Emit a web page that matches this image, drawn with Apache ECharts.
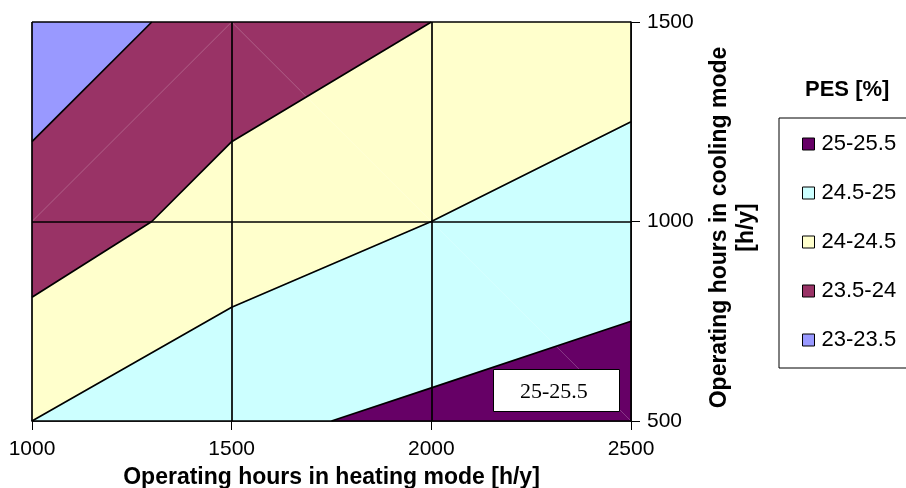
<!DOCTYPE html>
<html><head><meta charset="utf-8">
<script src="https://cdn.jsdelivr.net/npm/echarts@6/dist/echarts.min.js"></script>
<style>html,body{margin:0;padding:0;background:#fff}#c{width:906px;height:488px}</style>
</head><body><div id="c"></div>
<script>
// Axis ticks
const xTicks = [1000, 1500, 2000, 2500];
const yTicks = [500, 1000, 1500];
// Contour boundary lines (PES iso-lines), [heating h/y, cooling h/y]
const iso23_5 = [[1000, 1200], [1300, 1500]];
const iso24 = [[1000, 810], [1300, 1000], [1500, 1200], [2000, 1500]];
const iso24_5 = [[1000, 500], [1500, 785], [2000, 1000], [2500, 1250]];
const iso25 = [[1750, 500], [2000, 583], [2500, 750]];
// Faint triangulation diagonals
const diagonals = [
  [[1000, 1000], [1500, 1500]],
  [[1500, 1500], [2000, 1000]],
  [[2000, 1000], [2500, 500]]
];
// Band names and colours
const bandNames = ['25-25.5', '24.5-25', '24-24.5', '23.5-24', '23-23.5'];
const bandColors = ['#660066', '#CCFFFF', '#FFFFCC', '#993366', '#9999FF'];

const xMin = xTicks[0], xMax = xTicks[xTicks.length - 1];
const yMin = yTicks[0], yMax = yTicks[yTicks.length - 1];
const rev = a => a.slice().reverse();

const polys = {
  '23-23.5': [[xMin, yMax]].concat(rev(iso23_5)),
  '23.5-24': iso23_5.concat([iso24[iso24.length - 1]]).concat(rev(iso24).slice(1)),
  '24-24.5': iso24.concat([[xMax, yMax]]).concat(rev(iso24_5)),
  '24.5-25': iso24_5.concat([[xMax, iso25[iso25.length - 1][1]]]).concat(rev(iso25)),
  '25-25.5': iso25.concat([[xMax, yMin]])
};

const FONT = 'Liberation Sans, Arial';
const series = [];
bandNames.slice().reverse().forEach(name => {
  const color = bandColors[bandNames.indexOf(name)];
  const poly = polys[name];
  series.push({
    name: name, type: 'custom', coordinateSystem: 'cartesian2d', silent: true,
    itemStyle: { color: color, borderColor: '#000', borderWidth: 1 },
    data: poly,
    renderItem: function (params, api) {
      if (params.dataIndex !== 0) return null;
      return { type: 'polygon', shape: { points: poly.map(p => api.coord(p)) },
        style: { fill: color, stroke: null } };
    }
  });
});
diagonals.forEach(d => series.push({
  type: 'line', data: d, symbol: 'none', silent: true, z: 3,
  lineStyle: { color: 'rgba(255,255,255,0.22)', width: 1 }
}));
[iso23_5, iso24, iso24_5, iso25].forEach(l => series.push({
  type: 'line', data: l, symbol: 'none', silent: true, z: 4,
  lineStyle: { color: '#000', width: 1.7 }
}));
// gridlines and frame over fills
series.push({
  type: 'line', data: [], z: 5, silent: true,
  markLine: {
    silent: true, symbol: 'none', label: { show: false },
    lineStyle: { color: '#000', width: 1.7, type: 'solid' },
    data: xTicks.map(v => ({ xAxis: v })).concat(yTicks.map(v => ({ yAxis: v })))
  }
});

const chart = echarts.init(document.getElementById('c'));
chart.setOption({
  animation: false,
  backgroundColor: '#fff',
  grid: { left: 32, top: 22, width: 599, height: 399, containLabel: false, outerBoundsMode: 'none' },
  xAxis: {
    type: 'value', min: xMin, max: xMax, interval: 500,
    name: 'Operating hours in heating mode [h/y]', nameLocation: 'middle', nameGap: 45,
    nameTextStyle: { fontFamily: FONT, fontWeight: 'bold', fontSize: 23, color: '#000' },
    axisLine: { lineStyle: { color: '#000', width: 1.7 } },
    axisTick: { show: true, length: 9, lineStyle: { color: '#000' } },
    axisLabel: { fontFamily: FONT, fontSize: 21, color: '#000', margin: 18, formatter: v => String(v) },
    splitLine: { show: false }
  },
  yAxis: {
    type: 'value', position: 'right', min: yMin, max: yMax, interval: 500,
    name: 'Operating hours in cooling mode\n[h/y]', nameLocation: 'middle', nameGap: 75, nameRotate: 90,
    nameTextStyle: { fontFamily: FONT, fontWeight: 'bold', fontSize: 23, color: '#000', lineHeight: 27, align: 'center', padding: [0, 12, 0, 0] },
    axisLine: { show: true, lineStyle: { color: '#000', width: 1.7 } },
    axisTick: { show: true, length: 9, lineStyle: { color: '#000' } },
    axisLabel: { fontFamily: FONT, fontSize: 21, color: '#000', margin: 16, formatter: v => String(v) },
    splitLine: { show: false }
  },
  legend: {
    data: bandNames, orient: 'vertical', left: 779, top: 118,
    icon: 'rect', itemWidth: 12, itemHeight: 12, itemGap: 27,
    padding: [15, 60, 17, 23], borderColor: '#000', borderWidth: 1,
    itemStyle: { borderColor: '#000', borderWidth: 1 },
    textStyle: { fontFamily: FONT, fontSize: 22, color: '#000', padding: [0, 0, 0, 2] }
  },
  graphic: [
    { type: 'text', left: 805, top: 79, style: { text: 'PES [%]', fontFamily: FONT, fontWeight: 'bold', fontSize: 22, fill: '#000' } },
    { type: 'rect', left: 493, top: 369, shape: { width: 126, height: 42 }, style: { fill: '#fff', stroke: '#000', lineWidth: 1 }, z: 10 },
    { type: 'text', left: 520, top: 381, style: { text: '25-25.5', fontFamily: 'Liberation Serif, Times New Roman', fontSize: 22, fill: '#000' }, z: 11 }
  ],
  series: series
});
</script></body></html>
